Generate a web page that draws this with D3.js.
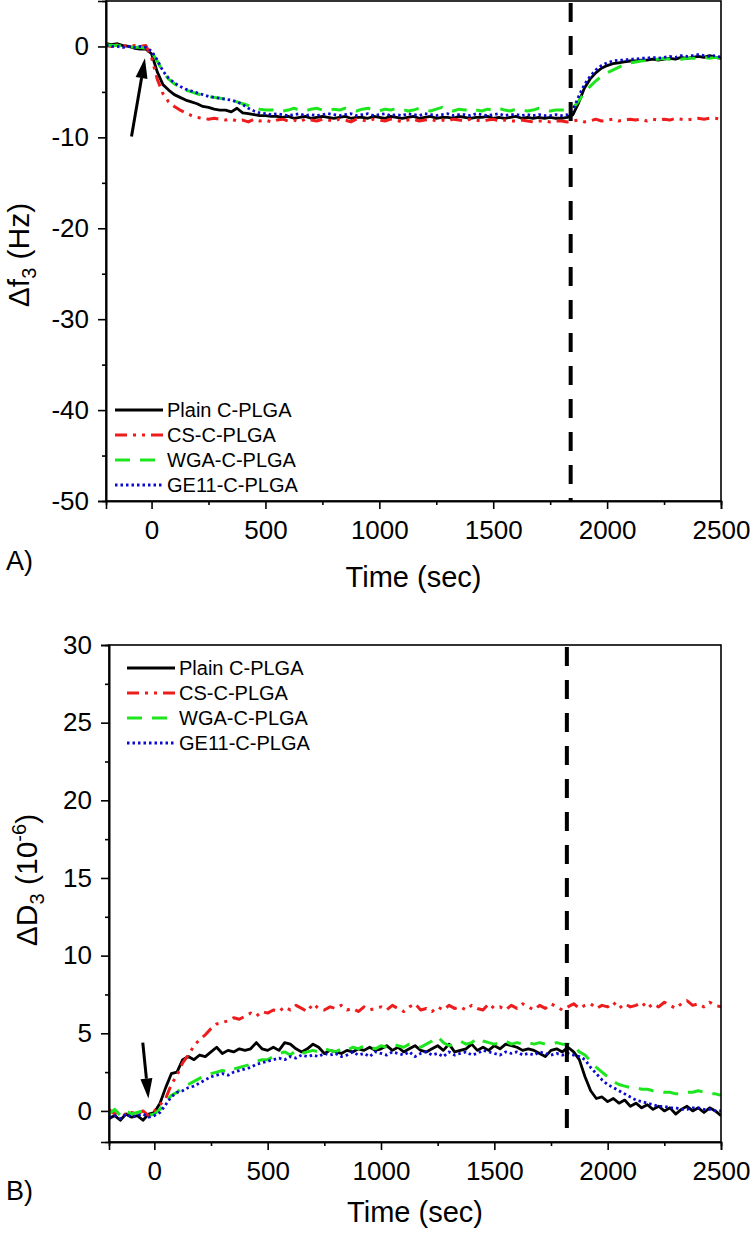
<!DOCTYPE html>
<html>
<head>
<meta charset="utf-8">
<script src="https://cdn.jsdelivr.net/npm/d3@7"></script>
<style>
  body { margin: 0; background: #fff; }
  text { font-family: "Liberation Sans", Arial, sans-serif; fill: #000; }
</style>
</head>
<body>
<svg id="fig" width="750" height="1233"></svg>
<script>
// sample grid (sec), every 25 s from -200 to 2500
const time = d3.range(-200, 2501, 25);

const names = ["Plain C-PLGA", "CS-C-PLGA", "WGA-C-PLGA", "GE11-C-PLGA"];

// ---- panel A: delta f3 (Hz) ----
const fPlain = [
  0.3, 0.2, 0.3, 0.1, 0.0, -0.2, -0.3, -0.3,
  -0.8, -2.8, -4.2, -4.8, -5.3, -5.6, -5.9, -6.1,
  -6.3, -6.6, -6.7, -6.9, -7.0, -7.0, -7.2, -6.8,
  -7.3, -7.4, -7.5, -7.6, -7.6, -7.7, -7.7, -7.8,
  -7.7, -7.9, -7.8, -7.7, -7.9, -7.8, -7.7, -7.8,
  -7.9, -7.8, -7.7, -7.9, -7.8, -7.8, -7.9, -7.7,
  -7.8, -7.9, -7.7, -7.8, -7.9, -7.8, -7.7, -7.9,
  -7.8, -7.7, -7.9, -7.8, -7.8, -7.9, -7.7, -7.8,
  -7.9, -7.8, -7.8, -7.7, -7.9, -7.8, -7.9, -7.8,
  -7.7, -7.9, -7.8, -7.9, -7.8, -7.9, -7.8, -7.9,
  -7.9, -7.8, -7.5, -6.2, -4.6, -3.6, -2.9, -2.4,
  -2.1, -1.9, -1.8, -1.7, -1.6, -1.6, -1.5, -1.5,
  -1.4, -1.5, -1.4, -1.3, -1.4, -1.2, -1.3, -1.2,
  -1.1, -1.2, -1.0, -1.2, -1.3
];
const fCS = [
  0.1, 0.0, 0.2, 0.1, 0.0, 0.1, 0.0, 0.1,
  -1.2, -3.6, -5.2, -6.1, -6.6, -7.0, -7.3, -7.6,
  -7.8, -7.9, -8.0, -7.9, -8.0, -8.1, -8.0, -8.2,
  -8.1, -8.3, -8.0, -8.2, -8.1, -8.3, -8.1, -8.0,
  -8.2, -8.1, -8.3, -8.0, -8.1, -8.2, -8.0, -8.1,
  -8.2, -8.0, -8.1, -8.3, -8.0, -8.1, -8.2, -8.0,
  -8.1, -8.2, -8.0, -8.1, -8.3, -8.1, -8.0, -8.2,
  -8.1, -8.0, -8.2, -8.1, -8.2, -8.0, -8.1, -8.2,
  -8.0, -8.1, -8.2, -8.1, -8.0, -8.2, -8.1, -8.2,
  -8.2, -8.1, -8.2, -8.3, -8.2, -8.2, -8.3, -8.2,
  -8.2, -8.3, -8.2, -8.1, -8.3, -8.2, -8.0, -8.2,
  -8.1, -8.0, -8.2, -8.1, -8.0, -8.1, -8.0, -8.2,
  -8.0, -8.1, -8.0, -8.1, -7.9, -8.0, -8.1, -8.0,
  -7.9, -8.0, -7.9, -7.9, -8.0
];
const fWGA = [
  0.2, 0.1, 0.1, 0.0, 0.0, -0.1, -0.1, -0.2,
  -0.6, -1.6, -2.8, -3.6, -4.1, -4.5, -4.8, -5.0,
  -5.2, -5.4, -5.5, -5.6, -5.7, -5.8, -5.9, -6.1,
  -6.3, -6.5, -6.7, -6.9, -7.0, -7.0, -6.9, -7.1,
  -7.0, -6.8, -7.0, -7.1, -6.9, -6.8, -7.0, -7.1,
  -6.9, -7.0, -6.8, -7.0, -7.1, -6.9, -6.8, -7.0,
  -7.1, -6.9, -7.0, -6.8, -6.9, -7.1, -7.0, -6.8,
  -7.0, -7.1, -6.9, -6.7, -7.0, -7.1, -6.9, -7.0,
  -6.8, -7.0, -7.1, -6.9, -7.0, -6.8, -7.0, -7.1,
  -6.9, -7.0, -7.1, -7.0, -6.8, -6.9, -7.1, -7.0,
  -7.0, -7.0, -6.8, -6.0, -5.1, -4.4, -3.8, -3.3,
  -2.9, -2.6, -2.3, -2.0, -1.8, -1.7, -1.6, -1.5,
  -1.4, -1.4, -1.3, -1.4, -1.3, -1.4, -1.3, -1.3,
  -1.3, -1.2, -1.3, -1.2, -1.3
];
const fGE11 = [
  0.1, 0.0, 0.0, -0.1, 0.0, -0.1, 0.0, -0.1,
  -0.5, -1.5, -2.7, -3.5, -4.0, -4.4, -4.7, -4.9,
  -5.1, -5.3, -5.5, -5.6, -5.7, -5.8, -5.9, -6.1,
  -6.4, -6.8, -7.1, -7.3, -7.4, -7.5, -7.4, -7.5,
  -7.6, -7.5, -7.4, -7.6, -7.5, -7.6, -7.5, -7.4,
  -7.5, -7.6, -7.5, -7.4, -7.6, -7.5, -7.4, -7.6,
  -7.5, -7.4, -7.6, -7.5, -7.6, -7.4, -7.5, -7.6,
  -7.4, -7.5, -7.6, -7.5, -7.4, -7.6, -7.5, -7.5,
  -7.6, -7.4, -7.5, -7.6, -7.5, -7.4, -7.6, -7.5,
  -7.5, -7.6, -7.5, -7.6, -7.5, -7.6, -7.6, -7.5,
  -7.6, -7.5, -7.0, -5.5, -4.2, -3.3, -2.6, -2.1,
  -1.8, -1.6, -1.5, -1.5, -1.4, -1.4, -1.3, -1.3,
  -1.2, -1.3, -1.2, -1.1, -1.2, -1.0, -1.1, -1.0,
  -0.9, -1.0, -1.1, -1.0, -1.2
];

// ---- panel B: delta D3 (1e-6) ----
const dPlain = [
  -0.5, -0.3, -0.6, -0.2, -0.4, -0.3, -0.6, -0.2,
  -0.1, 0.5, 1.5, 2.4, 2.5, 3.3, 3.5, 3.3,
  3.6, 3.5, 3.8, 4.1, 3.7, 3.9, 3.8, 4.0,
  3.9, 4.0, 4.4, 4.0, 3.9, 4.1, 3.9, 4.4,
  4.3, 4.0, 3.8, 4.0, 4.3, 4.1, 3.7, 3.9,
  3.8, 3.7, 3.9, 3.8, 4.0, 3.9, 4.1, 3.9,
  4.0, 4.2, 3.9, 4.1, 3.8, 4.0, 4.2, 3.9,
  3.8, 4.0, 4.2, 3.9, 4.3, 3.8, 3.9, 4.0,
  4.3, 3.9, 4.1, 3.9, 4.2, 4.0, 4.3, 4.2,
  4.1, 3.9, 4.0, 3.9, 3.7, 3.5, 3.9, 4.0,
  3.8, 4.1, 3.8, 3.3, 2.2, 1.3, 0.8, 0.9,
  0.6, 0.8, 0.5, 0.7, 0.3, 0.5, 0.2, 0.4,
  0.1, 0.3, 0.0, 0.2, -0.2, 0.1, 0.3, 0.0,
  0.2, -0.1, 0.2, 0.0, -0.3
];
const dCS = [
  0.1, -0.2, 0.0, -0.3, -0.1, -0.2, 0.0, -0.3,
  0.0, 0.4, 0.8, 1.7, 2.3, 3.1, 3.6, 4.2,
  4.6, 4.9, 5.3, 5.6, 5.7, 5.8, 6.0, 5.9,
  6.1, 6.3, 6.1, 6.4, 6.3, 6.5, 6.4, 6.7,
  6.5, 6.8, 6.6, 6.4, 6.9, 6.6, 6.5, 6.7,
  6.6, 6.8, 6.5, 6.6, 6.4, 6.7, 6.5, 6.6,
  6.7, 6.5, 6.8, 6.6, 6.4, 6.7, 6.9, 6.5,
  6.6, 6.4, 6.7, 6.5, 6.8, 6.6, 6.7, 6.5,
  6.8, 6.6, 6.5, 6.9, 6.6, 6.7, 6.5, 6.8,
  6.6, 6.9, 6.7, 6.5, 6.8, 6.6, 6.9, 6.7,
  6.5, 6.7, 6.9, 6.6, 6.8, 6.9, 6.6, 6.8,
  6.7, 7.0, 6.6, 6.9, 6.7, 6.8, 7.0, 6.6,
  6.9, 6.7, 7.0, 6.8, 6.6, 6.9, 7.1, 6.8,
  6.9, 6.7, 7.0, 6.8, 6.7
];
const dWGA = [
  -0.2, 0.1, -0.3, 0.0, -0.2, -0.1, 0.0, -0.3,
  -0.2, 0.1, 0.6, 1.0, 1.2, 1.5, 1.7, 1.9,
  2.1, 2.3, 2.4, 2.5, 2.6, 2.5, 2.7, 2.8,
  2.9, 3.0, 3.2, 3.3, 3.3, 3.5, 3.7, 3.8,
  3.6, 3.9, 3.7, 3.8, 3.9, 3.8, 4.0, 3.9,
  3.8, 4.0, 3.9, 4.1, 4.0, 4.2, 4.1, 4.0,
  4.2, 4.1, 4.3, 4.2, 4.1, 4.3, 4.2, 4.1,
  4.3, 4.5, 4.8, 4.4, 4.2, 4.3, 4.5, 4.3,
  4.4, 4.7, 4.5, 4.4, 4.3, 4.4, 4.5, 4.3,
  4.4, 4.3, 4.4, 4.3, 4.4, 4.3, 4.3, 4.4,
  4.3, 4.3, 4.2, 3.8, 3.6, 3.2, 2.8, 2.5,
  2.2, 1.9, 1.7, 1.6, 1.5, 1.5, 1.4, 1.4,
  1.3, 1.3, 1.2, 1.2, 1.1, 1.1, 1.2, 1.2,
  1.3, 1.2, 1.1, 1.1, 1.0
];
const dGE11 = [
  -0.4, -0.3, -0.5, -0.2, -0.4, -0.3, -0.2, -0.4,
  -0.3, -0.1, 0.4, 0.9, 1.2, 1.3, 1.5, 1.6,
  1.8, 2.0, 2.2, 2.3, 2.4, 2.3, 2.5, 2.6,
  2.7, 2.8, 3.0, 3.1, 3.2, 3.3, 3.4, 3.3,
  3.5, 3.4, 3.6, 3.5, 3.6, 3.5, 3.7, 3.6,
  3.7, 3.5, 3.6, 3.8, 3.6, 3.7, 3.5, 3.8,
  3.7, 3.6, 3.8, 3.7, 3.6, 3.8, 3.5, 3.7,
  3.8, 3.6, 3.7, 3.5, 3.8, 3.6, 3.7, 3.8,
  3.6, 3.7, 3.9, 3.8, 3.7, 3.6, 3.8, 3.7,
  3.8, 3.6, 3.7, 3.6, 3.8, 3.7, 3.6, 3.7,
  3.6, 3.7, 3.6, 3.5, 3.3, 2.8, 2.4, 2.0,
  1.7, 1.5, 1.3, 1.1, 0.9, 0.7, 0.6, 0.5,
  0.4, 0.3, 0.3, 0.2, 0.2, 0.1, 0.1, 0.2,
  0.2, 0.1, 0.1, 0.0, 0.0
];

const xMajor = [0, 500, 1000, 1500, 2000, 2500];
const xMinor = [250, 750, 1250, 1750, 2250];
const fTicks = [-50, -40, -30, -20, -10, 0];
const fMinor = [-45, -35, -25, -15, -5];
const dTicks = [0, 5, 10, 15, 20, 25, 30];
const dMinor = [2.5, 7.5, 12.5, 17.5, 22.5, 27.5];

// line looks, same order as names
const styles = [
  { color: "#000000", dash: null, w: 2.8 },
  { color: "#ee1c1c", dash: "12,6,3,6,3,6", w: 3 },
  { color: "#1ee61e", dash: "15,10", w: 3 },
  { color: "#0a0ad2", dash: "2.5,3", w: 2.8 }
];

const svg = d3.select("#fig");

function drawArrow(g, x, y, from, to) {
  const x1 = x(from[0]), y1 = y(from[1]), x2 = x(to[0]), y2 = y(to[1]);
  const a = Math.atan2(y2 - y1, x2 - x1), L = 20, W = 6;
  const bx = x2 - L * Math.cos(a), by = y2 - L * Math.sin(a);
  g.append("line")
    .attr("x1", x1).attr("y1", y1).attr("x2", bx).attr("y2", by)
    .attr("stroke", "#000").attr("stroke-width", 3);
  g.append("path")
    .attr("d", "M" + x2 + "," + y2 +
      "L" + (bx + W * Math.sin(a)) + "," + (by - W * Math.cos(a)) +
      "L" + (bx - W * Math.sin(a)) + "," + (by + W * Math.cos(a)) + "Z")
    .attr("fill", "#000");
}

function drawPanel(p) {
  const x = d3.scaleLinear().domain([-200, 2500]).range(p.xr);
  const y = d3.scaleLinear().domain(p.yd).range(p.yr);
  const g = svg.append("g");

  g.append("clipPath").attr("id", p.id + "clip")
    .append("rect")
    .attr("x", p.xr[0]).attr("y", p.yr[1])
    .attr("width", p.xr[1] - p.xr[0]).attr("height", p.yr[0] - p.yr[1]);

  // data lines
  const line = d3.line().x((d, i) => x(time[i])).y(d => y(d));
  const lines = g.append("g").attr("clip-path", "url(#" + p.id + "clip)");
  p.series.forEach((s, k) => {
    lines.append("path")
      .datum(s)
      .attr("d", line)
      .attr("fill", "none")
      .attr("stroke", styles[k].color)
      .attr("stroke-width", styles[k].w)
      .attr("stroke-linejoin", "round")
      .attr("stroke-dasharray", styles[k].dash);
  });

  // rinse marker
  g.append("line")
    .attr("x1", x(p.rinse)).attr("x2", x(p.rinse))
    .attr("y1", p.yr[1] + 2).attr("y2", p.yr[0])
    .attr("stroke", "#000").attr("stroke-width", 4)
    .attr("stroke-dasharray", "19,14");

  // frame
  g.append("rect")
    .attr("x", p.xr[0]).attr("y", p.yr[1])
    .attr("width", p.xr[1] - p.xr[0]).attr("height", p.yr[0] - p.yr[1])
    .attr("fill", "none").attr("stroke", "#000").attr("stroke-width", 1.6);

  // axes
  const fmt = d => String(d);
  const xa = g.append("g").attr("transform", "translate(0," + p.yr[0] + ")");
  xa.call(d3.axisBottom(x).tickValues(xMajor).tickSize(8).tickPadding(12).tickFormat(fmt));
  xa.append("g").call(d3.axisBottom(x).tickValues(xMinor).tickSize(4).tickFormat(""));
  const ya = g.append("g").attr("transform", "translate(" + p.xr[0] + ",0)");
  ya.call(d3.axisLeft(y).tickValues(p.ticks).tickSize(8).tickPadding(9).tickFormat(fmt));
  ya.append("g").call(d3.axisLeft(y).tickValues(p.minor).tickSize(4).tickFormat(""));
  g.selectAll(".domain").attr("stroke", "#000").attr("stroke-width", 1.6);
  g.selectAll(".tick line").attr("stroke", "#000").attr("stroke-width", 1.6);
  g.selectAll(".tick text")
    .attr("font-family", '"Liberation Sans", Arial, sans-serif')
    .attr("font-size", 26).attr("fill", "#000");

  // x title
  g.append("text")
    .attr("x", (p.xr[0] + p.xr[1]) / 2).attr("y", p.yr[0] + p.xtdy)
    .attr("text-anchor", "middle").attr("font-size", 29)
    .text("Time (sec)");

  // y title
  const yt = g.append("text")
    .attr("transform", "translate(" + p.ytx + "," + p.yty + ") rotate(-90)")
    .attr("text-anchor", "middle").attr("font-size", 30);
  p.ytitle(yt);

  // panel letter
  g.append("text")
    .attr("x", 6).attr("y", p.yr[0] + p.ldy)
    .attr("font-family", '"Liberation Serif", "Times New Roman", serif')
    .attr("font-size", 27)
    .text(p.letter);

  // legend
  const lg = g.append("g");
  names.forEach((n, k) => {
    const ry = p.leg[1] + k * 25;
    lg.append("line")
      .attr("x1", p.leg[0]).attr("x2", p.leg[0] + 48)
      .attr("y1", ry).attr("y2", ry)
      .attr("stroke", styles[k].color).attr("stroke-width", styles[k].w)
      .attr("stroke-dasharray", styles[k].dash);
    lg.append("text")
      .attr("x", p.leg[0] + 52).attr("y", ry + 7)
      .attr("font-size", 20)
      .text(n);
  });

  drawArrow(g, x, y, p.arrow[0], p.arrow[1]);
}

drawPanel({
  id: "a", letter: "A)",
  xr: [106, 721], yr: [501, 1], yd: [-50, 5],
  ticks: fTicks, minor: fMinor,
  series: [fPlain, fCS, fWGA, fGE11],
  rinse: 1840,
  leg: [115, 410],
  arrow: [[-88, -9.9], [-29, -1.3]],
  xtdy: 86, ldy: 69,
  ytx: 29, yty: 255,
  ytitle: t => {
    t.append("tspan").text("\u0394f");
    t.append("tspan").attr("font-size", 20).attr("dy", 7).text("3");
    t.append("tspan").attr("dy", -7).text(" (Hz)");
  }
});

drawPanel({
  id: "b", letter: "B)",
  xr: [109, 721], yr: [1142, 645], yd: [-2, 30],
  ticks: dTicks, minor: dMinor,
  series: [dPlain, dCS, dWGA, dGE11],
  rinse: 1820,
  leg: [127, 668],
  arrow: [[-51, 4.4], [-26, 0.8]],
  xtdy: 80, ldy: 58,
  ytx: 37, yty: 880,
  ytitle: t => {
    t.append("tspan").text("\u0394D");
    t.append("tspan").attr("font-size", 20).attr("dy", 7).text("3");
    t.append("tspan").attr("dy", -7).text(" (10");
    t.append("tspan").attr("font-size", 20).attr("dy", -11).text("-6");
    t.append("tspan").attr("dy", 11).text(")");
  }
});
</script>
</body>
</html>
